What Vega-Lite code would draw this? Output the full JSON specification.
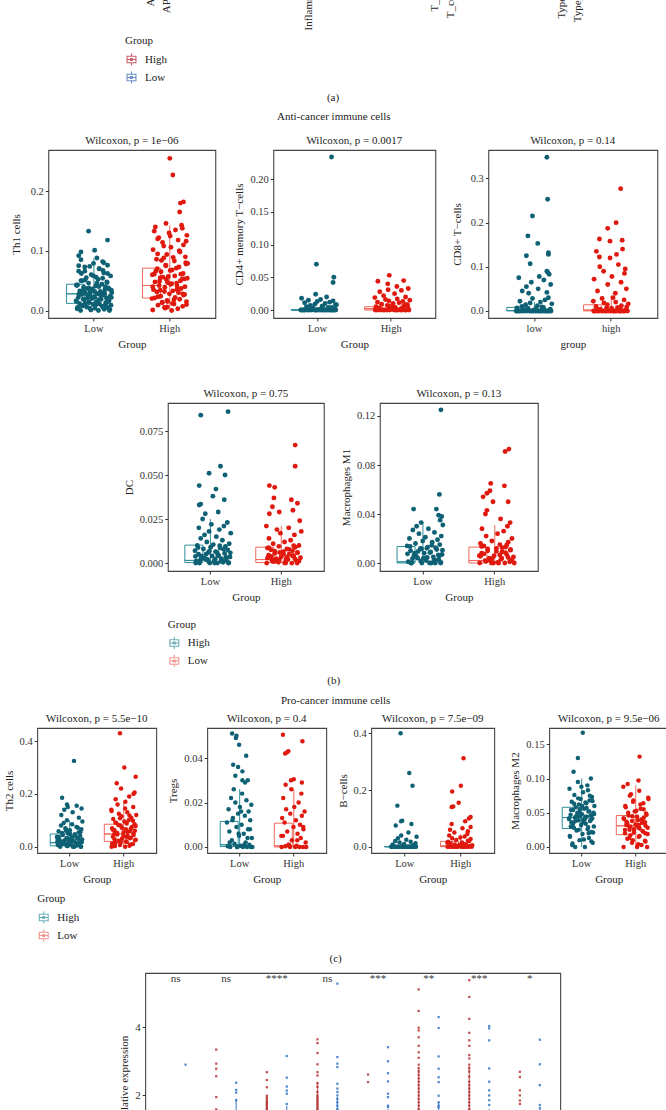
{
"$schema":"https://vega.github.io/schema/vega-lite/v6.json",
"padding":{"top":-81,"left":2,"right":0,"bottom":0},
"background":"white",
"config":{
 "font":"Liberation Serif",
 "view":{"stroke":"#444","strokeWidth":1.1},
 "axis":{"domain":false,"grid":false,"tickSize":3,"tickColor":"#333","labelColor":"#333","labelFontSize":10.5,"titleFontSize":11,"titleFontWeight":"normal","titleColor":"#222","labelPadding":2,"titlePadding":5},
 "axisX":{"labelAngle":0},
 "title":{"fontSize":11,"fontWeight":"normal","color":"#222","offset":4},
 "style":{"group-title":{"fontWeight":"normal"}},
 "legend":{"titleFontWeight":"normal","titleFontSize":11,"labelFontSize":11,"labelColor":"#222","titleColor":"#222","rowPadding":1,"titlePadding":7,"labelOffset":7}
},
"spacing":8,
"center":true,
"resolve":{"scale":{"color":"independent","x":"independent","y":"independent"},"legend":{"color":"independent"}},
"vconcat":[
{
 "width":662,"height":4,
 "view":{"stroke":null},
 "title":{"text":"(a)","orient":"bottom","offset":6,"anchor":"middle","dx":-20},
 "layer":[
  {"data":{"values":[{"f":"aDCs"},{"f":"APC_co_inhibition"},{"f":"APC_co_stimulation"},{"f":"B_cells"},{"f":"CCR"},{"f":"CD8+_T_cells"},{"f":"Check-point"},{"f":"Cytolytic_activity"},{"f":"DCs"},{"f":"HLA"},{"f":"iDCs"},{"f":"Inflammation-promoting"},{"f":"Macrophages"},{"f":"Mast_cells"},{"f":"MHC_class_I"},{"f":"Neutrophils"},{"f":"NK_cells"},{"f":"Parainflammation"},{"f":"pDCs"},{"f":"T_cell_co-inhibition"},{"f":"T_cell_co-stimulation"},{"f":"T_helper_cells"},{"f":"Tfh"},{"f":"Th1_cells"},{"f":"Th2_cells"},{"f":"TIL"},{"f":"Treg"},{"f":"Type_I_IFN_Reponse"},{"f":"Type_II_IFN_Reponse"}]},
   "mark":{"type":"text","angle":270,"align":"right","baseline":"middle","fontSize":11,"color":"#222"},
   "encoding":{"x":{"field":"f","type":"nominal","sort":null,"scale":{"type":"band","range":[105.3,563.5]},"axis":null},"text":{"field":"f"}}},
  {"data":{"values":[]},
   "mark":{"type":"point","filled":false,"shape":"M-0.75,-0.55H0.75V0.55H-0.75Z M0,-1V-0.55 M0,0.55V1 M-0.75,0H0.75 M-0.15,-0.15H0.15V0.15H-0.15Z","strokeWidth":1.1},
   "encoding":{"color":{"field":"G","type":"nominal","scale":{"domain":["High","Low"],"range":["#b2182b","#2c5fae"]},"legend":{"title":"Group","orient":"none","legendX":103,"legendY":116,"symbolType":"M-0.75,-0.55H0.75V0.55H-0.75Z M0,-1V-0.55 M0,0.55V1 M-0.75,0H0.75 M-0.15,-0.15H0.15V0.15H-0.15Z","symbolSize":140,"symbolStrokeWidth":1.1}}}}
 ]
},
{
 "title":{"text":"(b)","orient":"bottom","offset":5,"anchor":"middle"},
 "resolve":{"scale":{"color":"independent","x":"independent","y":"independent"},"legend":{"color":"independent"}},
 "vconcat":[{
  "title":{"text":"Anti-cancer immune cells","offset":12,"anchor":"middle"},
  "spacing":36,
  "center":true,
  "resolve":{"scale":{"color":"independent","x":"independent","y":"independent"},"legend":{"color":"independent"}},
  "vconcat":[
   {"spacing":17,"resolve":{"scale":{"color":"independent","x":"independent","y":"independent"},"legend":{"color":"independent"}},"hconcat":[
    {"width":167,"height":168,"title":"Wilcoxon, p = 1e−06",
     "data":{"values":[{"g":"Low","lo":0,"q1":0.012,"med":0.028,"q3":0.044,"hi":0.088},{"g":"High","lo":0,"q1":0.021,"med":0.042,"q3":0.071,"hi":0.143}]},
     "encoding":{"x":{"field":"g","type":"nominal","scale":{"domain":["Low","High"],"paddingInner":0,"paddingOuter":0.1},"axis":{"title":"Group"}}},
     "layer":[
      {"mark":{"type":"rule","strokeWidth":1},"encoding":{"y":{"field":"lo","type":"quantitative","title":"Th1 cells","scale":{"domain":[-0.0125,0.269],"nice":false,"zero":false}},"y2":{"field":"hi"},"stroke":{"condition":{"test":"datum.g==='Low'","value":"#2f8e9c"},"value":"#ef6a5f"}}},
      {"mark":{"type":"bar","width":{"band":0.72},"fill":"white","strokeWidth":1},"encoding":{"y":{"field":"q1","type":"quantitative","title":"Th1 cells","scale":{"domain":[-0.0125,0.269],"nice":false,"zero":false}},"y2":{"field":"q3"},"stroke":{"condition":{"test":"datum.g==='Low'","value":"#2f8e9c"},"value":"#ef6a5f"}}},
      {"mark":{"type":"bar","width":{"band":0.72},"fill":"white","strokeWidth":1},"encoding":{"y":{"field":"med","type":"quantitative","title":"Th1 cells","scale":{"domain":[-0.0125,0.269],"nice":false,"zero":false}},"y2":{"field":"med"},"stroke":{"condition":{"test":"datum.g==='Low'","value":"#2f8e9c"},"value":"#ef6a5f"}}},
      {"data":{"values":"g,v,j\nLow,0,0.12\nLow,0,-0.35\nLow,0,0.41\nLow,0.001,-0.08\nLow,0.002,0.27\nLow,0.003,-0.44\nLow,0.004,0.03\nLow,0.005,0.36\nLow,0.006,-0.19\nLow,0.007,0.22\nLow,0.008,-0.29\nLow,0.009,0.45\nLow,0.01,-0.02\nLow,0.011,0.15\nLow,0.012,-0.38\nLow,0.013,0.31\nLow,0.014,-0.12\nLow,0.015,0.07\nLow,0.016,-0.47\nLow,0.017,0.39\nLow,0.018,-0.25\nLow,0.019,0.19\nLow,0.02,-0.06\nLow,0.021,0.33\nLow,0.022,-0.41\nLow,0.023,0.01\nLow,0.024,0.43\nLow,0.025,-0.16\nLow,0.026,0.25\nLow,0.027,-0.32\nLow,0.028,0.09\nLow,0.029,-0.22\nLow,0.03,0.47\nLow,0.031,-0.1\nLow,0.032,0.17\nLow,0.033,-0.37\nLow,0.035,0.29\nLow,0.036,-0.04\nLow,0.038,0.38\nLow,0.039,-0.27\nLow,0.041,0.05\nLow,0.042,-0.45\nLow,0.044,0.21\nLow,0.046,-0.14\nLow,0.048,0.34\nLow,0.05,-0.31\nLow,0.052,0.11\nLow,0.055,-0.2\nLow,0.058,0.44\nLow,0.06,-0.07\nLow,0.063,0.26\nLow,0.066,-0.4\nLow,0.07,0.14\nLow,0.073,-0.24\nLow,0.076,0.36\nLow,0.079,-0.01\nLow,0.082,0.23\nLow,0.085,-0.34\nLow,0.088,0.08\nLow,0.005,-0.43\nLow,0.009,0.3\nLow,0.013,-0.13\nLow,0.016,0.4\nLow,0.019,-0.28\nLow,0.022,0.02\nLow,0.025,0.18\nLow,0.027,-0.39\nLow,0.029,0.28\nLow,0.031,-0.09\nLow,0.034,0.46\nLow,0.037,-0.18\nLow,0.04,0.13\nLow,0.043,-0.46\nLow,0.047,0.35\nLow,0.051,-0.23\nLow,0.056,0.06\nLow,0.062,-0.33\nLow,0.067,0.24\nLow,0.074,-0.11\nLow,0.002,0.42\nLow,0.004,-0.11\nLow,0.006,0.24\nLow,0.008,-0.33\nLow,0.01,0.06\nLow,0.012,-0.23\nLow,0.014,0.35\nLow,0.016,-0.46\nLow,0.018,0.13\nLow,0.02,-0.18\nLow,0.022,0.46\nLow,0.024,-0.09\nLow,0.026,0.28\nLow,0.028,-0.39\nLow,0.03,0.18\nLow,0.032,0.02\nLow,0.034,-0.28\nLow,0.036,0.4\nLow,0.038,-0.13\nLow,0.04,0.3\nLow,0.043,-0.43\nLow,0.046,0.08\nLow,0.05,-0.34\nLow,0.054,0.23\nLow,0.058,-0.01\nLow,0.062,0.36\nLow,0.066,-0.24\nLow,0.07,0.14\nLow,0.075,-0.4\nLow,0.08,0.26\nLow,0.092,-0.4\nLow,0.098,-0.34\nLow,0.101,0.02\nLow,0.118,0.36\nLow,0.133,-0.14\nHigh,0,0.05\nHigh,0.001,-0.45\nHigh,0.003,0.21\nHigh,0.005,-0.14\nHigh,0.007,0.34\nHigh,0.009,-0.31\nHigh,0.011,0.11\nHigh,0.013,-0.2\nHigh,0.015,0.44\nHigh,0.017,-0.07\nHigh,0.019,0.26\nHigh,0.021,-0.4\nHigh,0.022,0.14\nHigh,0.024,-0.24\nHigh,0.026,0.36\nHigh,0.028,-0.01\nHigh,0.03,0.23\nHigh,0.031,-0.34\nHigh,0.033,0.08\nHigh,0.035,-0.43\nHigh,0.037,0.3\nHigh,0.039,-0.13\nHigh,0.04,0.4\nHigh,0.042,-0.28\nHigh,0.044,0.02\nHigh,0.046,0.18\nHigh,0.048,-0.39\nHigh,0.05,0.28\nHigh,0.052,-0.09\nHigh,0.054,0.46\nHigh,0.056,-0.18\nHigh,0.058,0.13\nHigh,0.06,-0.46\nHigh,0.062,0.35\nHigh,0.065,-0.23\nHigh,0.068,0.06\nHigh,0.07,-0.33\nHigh,0.073,0.24\nHigh,0.076,-0.11\nHigh,0.08,0.42\nHigh,0.083,0.12\nHigh,0.086,-0.35\nHigh,0.09,0.41\nHigh,0.094,-0.08\nHigh,0.098,0.27\nHigh,0.102,-0.44\nHigh,0.106,0.03\nHigh,0.11,0.36\nHigh,0.114,-0.19\nHigh,0.118,0.22\nHigh,0.122,-0.29\nHigh,0.126,0.45\nHigh,0.13,-0.02\nHigh,0.135,0.15\nHigh,0.14,-0.38\nHigh,0.143,0.31\nHigh,0.004,-0.12\nHigh,0.012,0.07\nHigh,0.02,-0.47\nHigh,0.027,0.39\nHigh,0.034,-0.25\nHigh,0.041,0.19\nHigh,0.047,-0.06\nHigh,0.053,0.33\nHigh,0.061,-0.41\nHigh,0.067,0.01\nHigh,0.078,0.43\nHigh,0.088,-0.16\nHigh,0.1,0.25\nHigh,0.12,-0.32\nHigh,0.006,-0.07\nHigh,0.01,0.44\nHigh,0.014,-0.2\nHigh,0.018,0.11\nHigh,0.023,-0.31\nHigh,0.028,0.34\nHigh,0.032,-0.14\nHigh,0.036,0.21\nHigh,0.04,-0.45\nHigh,0.045,0.05\nHigh,0.049,-0.27\nHigh,0.053,0.38\nHigh,0.057,-0.04\nHigh,0.061,0.29\nHigh,0.066,-0.37\nHigh,0.071,0.17\nHigh,0.075,-0.1\nHigh,0.079,0.47\nHigh,0.084,-0.22\nHigh,0.089,0.09\nHigh,0.095,-0.32\nHigh,0.1,0.25\nHigh,0.108,-0.16\nHigh,0.116,0.43\nHigh,0.125,0.01\nHigh,0.133,-0.41\nHigh,0.138,0.33\nHigh,0.015,-0.06\nHigh,0.035,0.19\nHigh,0.055,-0.25\nHigh,0.146,-0.1\nHigh,0.165,0.26\nHigh,0.18,0.28\nHigh,0.182,0.36\nHigh,0.227,0.08\nHigh,0.255,0","format":{"type":"csv","parse":{"v":"number","j":"number"}}},
       "mark":{"type":"circle","size":24,"opacity":1},
       "encoding":{"xOffset":{"field":"j","type":"quantitative","scale":{"domain":[-1,1]}},"y":{"field":"v","type":"quantitative","title":"Th1 cells","scale":{"domain":[-0.0125,0.269],"nice":false,"zero":false},"axis":{"values":[0,0.1,0.2],"format":".1f","titlePadding":9}},"color":{"condition":{"test":"datum.g==='Low'","value":"#0e6174"},"value":"#e0190f"}}}
     ]},
    {"spacing":14,"resolve":{"scale":{"color":"independent","x":"independent","y":"independent"},"legend":{"color":"independent"}},"hconcat":[
    {"width":162,"height":168,"title":"Wilcoxon, p = 0.0017",
     "data":{"values":[{"g":"Low","lo":0,"q1":0,"med":0,"q3":0.0005,"hi":0.001},{"g":"High","lo":0,"q1":0,"med":0.002,"q3":0.005,"hi":0.012}]},
     "encoding":{"x":{"field":"g","type":"nominal","scale":{"domain":["Low","High"],"paddingInner":0,"paddingOuter":0.1},"axis":{"title":"Group"}}},
     "layer":[
      {"mark":{"type":"rule","strokeWidth":1},"encoding":{"y":{"field":"lo","type":"quantitative","title":"CD4+ memory T−cells","scale":{"domain":[-0.0122,0.2446],"nice":false,"zero":false}},"y2":{"field":"hi"},"stroke":{"condition":{"test":"datum.g==='Low'","value":"#2f8e9c"},"value":"#ef6a5f"}}},
      {"mark":{"type":"bar","width":{"band":0.72},"fill":"white","strokeWidth":1},"encoding":{"y":{"field":"q1","type":"quantitative","title":"CD4+ memory T−cells","scale":{"domain":[-0.0122,0.2446],"nice":false,"zero":false}},"y2":{"field":"q3"},"stroke":{"condition":{"test":"datum.g==='Low'","value":"#2f8e9c"},"value":"#ef6a5f"}}},
      {"mark":{"type":"bar","width":{"band":0.72},"fill":"white","strokeWidth":1},"encoding":{"y":{"field":"med","type":"quantitative","title":"CD4+ memory T−cells","scale":{"domain":[-0.0122,0.2446],"nice":false,"zero":false}},"y2":{"field":"med"},"stroke":{"condition":{"test":"datum.g==='Low'","value":"#2f8e9c"},"value":"#ef6a5f"}}},
      {"data":{"values":"g,v,j\nLow,0,0.12\nLow,0,-0.35\nLow,0,0.41\nLow,0,-0.08\nLow,0,0.27\nLow,0,-0.44\nLow,0,0.03\nLow,0,0.36\nLow,0,-0.19\nLow,0,0.22\nLow,0,-0.29\nLow,0,0.45\nLow,0,-0.02\nLow,0,0.15\nLow,0,-0.38\nLow,0,0.31\nLow,0,-0.12\nLow,0,0.07\nLow,0,-0.47\nLow,0,0.39\nLow,0,-0.25\nLow,0,0.19\nLow,0,-0.06\nLow,0,0.33\nLow,0,-0.41\nLow,0.001,0.01\nLow,0.002,0.43\nLow,0.003,-0.16\nLow,0.004,0.25\nLow,0.005,-0.32\nLow,0.006,0.09\nLow,0.007,-0.22\nLow,0.008,0.47\nLow,0.009,-0.1\nLow,0.01,0.17\nLow,0.011,-0.37\nLow,0.012,0.29\nLow,0.013,-0.04\nLow,0.014,0.38\nLow,0.015,-0.27\nLow,0.016,0.05\nLow,0.018,-0.45\nLow,0.02,0.21\nLow,0.002,-0.14\nLow,0.004,0.34\nLow,0.001,-0.31\nLow,0.006,0.11\nLow,0.003,-0.2\nLow,0.008,0.44\nLow,0.024,-0.08\nLow,0.042,0.38\nLow,0.05,0.4\nLow,0.07,-0.06\nLow,0.234,0.34\nHigh,0,0.05\nHigh,0,-0.45\nHigh,0,0.21\nHigh,0,-0.14\nHigh,0,0.34\nHigh,0,-0.31\nHigh,0,0.11\nHigh,0,-0.2\nHigh,0,0.44\nHigh,0,-0.07\nHigh,0,0.26\nHigh,0,-0.4\nHigh,0,0.14\nHigh,0,-0.24\nHigh,0,0.36\nHigh,0.001,-0.01\nHigh,0.002,0.23\nHigh,0.003,-0.34\nHigh,0.004,0.08\nHigh,0.005,-0.43\nHigh,0.006,0.3\nHigh,0.007,-0.13\nHigh,0.008,0.4\nHigh,0.009,-0.28\nHigh,0.01,0.02\nHigh,0.011,0.18\nHigh,0.012,-0.39\nHigh,0.013,0.28\nHigh,0.014,-0.09\nHigh,0.015,0.46\nHigh,0.016,-0.18\nHigh,0.017,0.13\nHigh,0.019,-0.46\nHigh,0.02,0.35\nHigh,0.022,-0.23\nHigh,0.025,0.06\nHigh,0.028,-0.33\nHigh,0.03,0.24\nHigh,0.031,-0.11\nHigh,0.033,0.42\nHigh,0.036,0.12\nHigh,0.002,-0.35\nHigh,0.004,0.41\nHigh,0.006,-0.08\nHigh,0.003,0.27\nHigh,0.001,-0.44\nHigh,0.005,0.03\nHigh,0.008,0.36\nHigh,0.04,-0.12\nHigh,0.044,-0.38\nHigh,0.045,0.3\nHigh,0.053,-0.08","format":{"type":"csv","parse":{"v":"number","j":"number"}}},
       "mark":{"type":"circle","size":24,"opacity":1},
       "encoding":{"xOffset":{"field":"j","type":"quantitative","scale":{"domain":[-1,1]}},"y":{"field":"v","type":"quantitative","title":"CD4+ memory T−cells","scale":{"domain":[-0.0122,0.2446],"nice":false,"zero":false},"axis":{"values":[0,0.05,0.1,0.15,0.2],"format":".2f"}},"color":{"condition":{"test":"datum.g==='Low'","value":"#0e6174"},"value":"#e0190f"}}}
     ]},
    {"width":169,"height":168,"title":"Wilcoxon, p = 0.14",
     "data":{"values":[{"g":"Low","lo":0,"q1":0,"med":0.001,"q3":0.008,"hi":0.02},{"g":"High","lo":0,"q1":0,"med":0.002,"q3":0.014,"hi":0.034}]},
     "encoding":{"x":{"field":"g","type":"nominal","scale":{"domain":["Low","High"],"paddingInner":0,"paddingOuter":0.1},"axis":{"title":"group","labelExpr":"datum.label == 'Low' ? 'low' : 'high'"}}},
     "layer":[
      {"mark":{"type":"rule","strokeWidth":1},"encoding":{"y":{"field":"lo","type":"quantitative","title":"CD8+ T−cells","scale":{"domain":[-0.016,0.3645],"nice":false,"zero":false}},"y2":{"field":"hi"},"stroke":{"condition":{"test":"datum.g==='Low'","value":"#2f8e9c"},"value":"#ef6a5f"}}},
      {"mark":{"type":"bar","width":{"band":0.72},"fill":"white","strokeWidth":1},"encoding":{"y":{"field":"q1","type":"quantitative","title":"CD8+ T−cells","scale":{"domain":[-0.016,0.3645],"nice":false,"zero":false}},"y2":{"field":"q3"},"stroke":{"condition":{"test":"datum.g==='Low'","value":"#2f8e9c"},"value":"#ef6a5f"}}},
      {"mark":{"type":"bar","width":{"band":0.72},"fill":"white","strokeWidth":1},"encoding":{"y":{"field":"med","type":"quantitative","title":"CD8+ T−cells","scale":{"domain":[-0.016,0.3645],"nice":false,"zero":false}},"y2":{"field":"med"},"stroke":{"condition":{"test":"datum.g==='Low'","value":"#2f8e9c"},"value":"#ef6a5f"}}},
      {"data":{"values":"g,v,j\nLow,0,0.12\nLow,0,-0.35\nLow,0,0.41\nLow,0,-0.08\nLow,0,0.27\nLow,0,-0.44\nLow,0,0.03\nLow,0,0.36\nLow,0,-0.19\nLow,0,0.22\nLow,0,-0.29\nLow,0,0.45\nLow,0,-0.02\nLow,0,0.15\nLow,0,-0.38\nLow,0,0.31\nLow,0,-0.12\nLow,0,0.07\nLow,0,-0.47\nLow,0,0.39\nLow,0,-0.25\nLow,0,0.19\nLow,0,-0.06\nLow,0,0.33\nLow,0,-0.41\nLow,0.002,0.01\nLow,0.004,0.43\nLow,0.006,-0.16\nLow,0.008,0.25\nLow,0.01,-0.32\nLow,0.012,0.09\nLow,0.014,-0.22\nLow,0.016,0.47\nLow,0.018,-0.1\nLow,0.02,0.17\nLow,0.022,-0.37\nLow,0.025,0.29\nLow,0.028,-0.04\nLow,0.03,0.38\nLow,0.003,-0.27\nLow,0.005,0.05\nLow,0.007,-0.45\nLow,0.009,0.21\nLow,0.04,-0.14\nLow,0.042,0.34\nLow,0.045,-0.31\nLow,0.05,0.11\nLow,0.055,-0.2\nLow,0.06,0.44\nLow,0.065,-0.07\nLow,0.07,0.26\nLow,0.075,-0.4\nLow,0.078,0.14\nLow,0.083,0.4\nLow,0.088,0.36\nLow,0.09,0.34\nLow,0.107,-0.1\nLow,0.125,-0.2\nLow,0.128,0.38\nLow,0.132,0.38\nLow,0.153,0.1\nLow,0.17,-0.16\nLow,0.215,-0.04\nLow,0.253,0.36\nLow,0.348,0.34\nHigh,0,0.05\nHigh,0,-0.45\nHigh,0,0.21\nHigh,0,-0.14\nHigh,0,0.34\nHigh,0,-0.31\nHigh,0,0.11\nHigh,0,-0.2\nHigh,0,0.44\nHigh,0,-0.07\nHigh,0,0.26\nHigh,0,-0.4\nHigh,0,0.14\nHigh,0,-0.24\nHigh,0,0.36\nHigh,0,-0.01\nHigh,0,0.23\nHigh,0,-0.34\nHigh,0,0.08\nHigh,0,-0.43\nHigh,0,0.3\nHigh,0,-0.13\nHigh,0.002,0.4\nHigh,0.004,-0.28\nHigh,0.006,0.02\nHigh,0.008,0.18\nHigh,0.01,-0.39\nHigh,0.012,0.28\nHigh,0.014,-0.09\nHigh,0.016,0.46\nHigh,0.018,-0.18\nHigh,0.02,0.13\nHigh,0.022,-0.46\nHigh,0.025,0.35\nHigh,0.028,-0.23\nHigh,0.03,0.06\nHigh,0.003,-0.33\nHigh,0.005,0.24\nHigh,0.007,-0.11\nHigh,0.009,0.42\nHigh,0.04,0.12\nHigh,0.045,-0.35\nHigh,0.05,0.41\nHigh,0.06,-0.08\nHigh,0.065,0.27\nHigh,0.072,-0.44\nHigh,0.078,0.03\nHigh,0.085,0.36\nHigh,0.09,-0.19\nHigh,0.095,0.38\nHigh,0.1,-0.29\nHigh,0.105,0.2\nHigh,0.12,-0.02\nHigh,0.122,-0.3\nHigh,0.128,0.15\nHigh,0.135,-0.38\nHigh,0.14,0.31\nHigh,0.158,-0.02\nHigh,0.16,0.3\nHigh,0.163,-0.3\nHigh,0.187,-0.08\nHigh,0.2,0.14\nHigh,0.277,0.26","format":{"type":"csv","parse":{"v":"number","j":"number"}}},
       "mark":{"type":"circle","size":24,"opacity":1},
       "encoding":{"xOffset":{"field":"j","type":"quantitative","scale":{"domain":[-1,1]}},"y":{"field":"v","type":"quantitative","title":"CD8+ T−cells","scale":{"domain":[-0.016,0.3645],"nice":false,"zero":false},"axis":{"values":[0,0.1,0.2,0.3],"format":".1f","titlePadding":8}},"color":{"condition":{"test":"datum.g==='Low'","value":"#0e6174"},"value":"#e0190f"}}}
     ]}
    ]}
   ]},
   {"spacing":15,"resolve":{"scale":{"color":"independent","x":"independent","y":"independent"},"legend":{"color":"independent"}},"hconcat":[
    {"width":156,"height":168,"title":"Wilcoxon, p = 0.75",
     "data":{"values":[{"g":"Low","lo":0,"q1":0.0003,"med":0.0015,"q3":0.0102,"hi":0.025},{"g":"High","lo":0,"q1":0.0003,"med":0.002,"q3":0.009,"hi":0.021}]},
     "encoding":{"x":{"field":"g","type":"nominal","scale":{"domain":["Low","High"],"paddingInner":0,"paddingOuter":0.1},"axis":{"title":"Group"}}},
     "layer":[
      {"mark":{"type":"rule","strokeWidth":1},"encoding":{"y":{"field":"lo","type":"quantitative","title":"DC","scale":{"domain":[-0.0045,0.0909],"nice":false,"zero":false}},"y2":{"field":"hi"},"stroke":{"condition":{"test":"datum.g==='Low'","value":"#2f8e9c"},"value":"#ef6a5f"}}},
      {"mark":{"type":"bar","width":{"band":0.72},"fill":"white","strokeWidth":1},"encoding":{"y":{"field":"q1","type":"quantitative","title":"DC","scale":{"domain":[-0.0045,0.0909],"nice":false,"zero":false}},"y2":{"field":"q3"},"stroke":{"condition":{"test":"datum.g==='Low'","value":"#2f8e9c"},"value":"#ef6a5f"}}},
      {"mark":{"type":"bar","width":{"band":0.72},"fill":"white","strokeWidth":1},"encoding":{"y":{"field":"med","type":"quantitative","title":"DC","scale":{"domain":[-0.0045,0.0909],"nice":false,"zero":false}},"y2":{"field":"med"},"stroke":{"condition":{"test":"datum.g==='Low'","value":"#2f8e9c"},"value":"#ef6a5f"}}},
      {"data":{"values":"g,v,j\nLow,0,0.12\nLow,0,-0.35\nLow,0,0.41\nLow,0,-0.08\nLow,0.0005,0.27\nLow,0.001,-0.44\nLow,0.001,0.03\nLow,0.0015,0.36\nLow,0.002,-0.19\nLow,0.0025,0.22\nLow,0.003,-0.29\nLow,0.0035,0.45\nLow,0.004,-0.02\nLow,0.0045,0.15\nLow,0.005,-0.38\nLow,0.0055,0.31\nLow,0.006,-0.12\nLow,0.0065,0.07\nLow,0.007,-0.47\nLow,0.0075,0.39\nLow,0.008,-0.25\nLow,0.0085,0.19\nLow,0.009,-0.06\nLow,0.0095,0.33\nLow,0.01,-0.41\nLow,0.0105,0.01\nLow,0.011,0.43\nLow,0.012,-0.16\nLow,0.013,0.25\nLow,0.014,-0.32\nLow,0.015,0.09\nLow,0.016,-0.22\nLow,0.017,0.47\nLow,0.018,-0.1\nLow,0.019,0.17\nLow,0.02,-0.37\nLow,0.021,0.29\nLow,0.022,-0.04\nLow,0.023,0.38\nLow,0.025,-0.27\nLow,0,0.05\nLow,0,-0.45\nLow,0.001,0.21\nLow,0.002,-0.14\nLow,0.003,0.34\nLow,0.004,-0.31\nLow,0.006,0.11\nLow,0.0002,0.42\nLow,0.0008,-0.11\nLow,0.0012,0.24\nLow,0.0018,-0.33\nLow,0.0022,0.06\nLow,0.0028,-0.23\nLow,0.0032,0.35\nLow,0.0038,-0.46\nLow,0.0042,0.13\nLow,0.005,-0.18\nLow,0.0058,0.46\nLow,0.0068,-0.09\nLow,0.0078,0.28\nLow,0.0088,-0.39\nLow,0.0098,0.18\nLow,0.028,-0.2\nLow,0.029,0.14\nLow,0.033,-0.36\nLow,0.0335,-0.32\nLow,0.036,0.3\nLow,0.038,0\nLow,0.042,0.08\nLow,0.044,-0.36\nLow,0.05,0.32\nLow,0.051,-0.1\nLow,0.055,0.2\nLow,0.084,-0.32\nLow,0.086,0.4\nHigh,0,0.05\nHigh,0,-0.45\nHigh,0,0.21\nHigh,0.0005,-0.14\nHigh,0.001,0.34\nHigh,0.0015,-0.31\nHigh,0.002,0.11\nHigh,0.0025,-0.2\nHigh,0.003,0.44\nHigh,0.0035,-0.07\nHigh,0.004,0.26\nHigh,0.0045,-0.4\nHigh,0.005,0.14\nHigh,0.0055,-0.24\nHigh,0.006,0.36\nHigh,0.0065,-0.01\nHigh,0.007,0.23\nHigh,0.0075,-0.34\nHigh,0.008,0.08\nHigh,0.0085,-0.43\nHigh,0.009,0.3\nHigh,0.0095,-0.13\nHigh,0.01,0.4\nHigh,0.011,-0.28\nHigh,0.012,0.02\nHigh,0.013,0.18\nHigh,0.014,-0.39\nHigh,0.016,0.28\nHigh,0.017,-0.09\nHigh,0.018,0.46\nHigh,0.019,-0.18\nHigh,0.02,0.13\nHigh,0.021,-0.46\nHigh,0,0.35\nHigh,0.001,-0.23\nHigh,0.002,0.06\nHigh,0.003,-0.33\nHigh,0.004,0.24\nHigh,0.006,-0.11\nHigh,0.0002,0.02\nHigh,0.0008,-0.28\nHigh,0.0012,0.4\nHigh,0.0018,-0.13\nHigh,0.0022,0.3\nHigh,0.0028,-0.43\nHigh,0.0032,0.08\nHigh,0.0038,-0.34\nHigh,0.0042,0.23\nHigh,0.005,-0.01\nHigh,0.0058,0.36\nHigh,0.0068,-0.24\nHigh,0.0078,0.14\nHigh,0.0088,-0.4\nHigh,0.0098,0.26\nHigh,0.024,0.42\nHigh,0.028,-0.38\nHigh,0.029,-0.12\nHigh,0.03,0.24\nHigh,0.032,-0.3\nHigh,0.034,0.36\nHigh,0.036,0.2\nHigh,0.037,-0.26\nHigh,0.043,-0.24\nHigh,0.044,-0.38\nHigh,0.055,0.3\nHigh,0.067,0.3","format":{"type":"csv","parse":{"v":"number","j":"number"}}},
       "mark":{"type":"circle","size":24,"opacity":1},
       "encoding":{"xOffset":{"field":"j","type":"quantitative","scale":{"domain":[-1,1]}},"y":{"field":"v","type":"quantitative","title":"DC","scale":{"domain":[-0.0045,0.0909],"nice":false,"zero":false},"axis":{"values":[0,0.025,0.05,0.075],"format":".3f"}},"color":{"condition":{"test":"datum.g==='Low'","value":"#0e6174"},"value":"#e0190f"}}},
      {"data":{"values":[]},
       "mark":{"type":"point","filled":false,"shape":"M-0.75,-0.55H0.75V0.55H-0.75Z M0,-1V-0.55 M0,0.55V1 M-0.75,0H0.75 M-0.15,-0.15H0.15V0.15H-0.15Z","strokeWidth":1.1},
       "encoding":{"color":{"field":"G","type":"nominal","scale":{"domain":["High","Low"],"range":["#2f8e9c","#ef6a5f"]},"legend":{"title":"Group","orient":"none","legendX":0,"legendY":215.5,"symbolType":"M-0.75,-0.55H0.75V0.55H-0.75Z M0,-1V-0.55 M0,0.55V1 M-0.75,0H0.75 M-0.15,-0.15H0.15V0.15H-0.15Z","symbolSize":140,"symbolStrokeWidth":1.1}}}}
     ]},
    {"width":158,"height":168,"title":"Wilcoxon, p = 0.13",
     "data":{"values":[{"g":"Low","lo":0,"q1":0,"med":0.001,"q3":0.0135,"hi":0.033},{"g":"High","lo":0,"q1":0,"med":0.002,"q3":0.013,"hi":0.031}]},
     "encoding":{"x":{"field":"g","type":"nominal","scale":{"domain":["Low","High"],"paddingInner":0,"paddingOuter":0.1},"axis":{"title":"Group"}}},
     "layer":[
      {"mark":{"type":"rule","strokeWidth":1},"encoding":{"y":{"field":"lo","type":"quantitative","title":"Macrophages M1","scale":{"domain":[-0.0065,0.1306],"nice":false,"zero":false}},"y2":{"field":"hi"},"stroke":{"condition":{"test":"datum.g==='Low'","value":"#2f8e9c"},"value":"#ef6a5f"}}},
      {"mark":{"type":"bar","width":{"band":0.72},"fill":"white","strokeWidth":1},"encoding":{"y":{"field":"q1","type":"quantitative","title":"Macrophages M1","scale":{"domain":[-0.0065,0.1306],"nice":false,"zero":false}},"y2":{"field":"q3"},"stroke":{"condition":{"test":"datum.g==='Low'","value":"#2f8e9c"},"value":"#ef6a5f"}}},
      {"mark":{"type":"bar","width":{"band":0.72},"fill":"white","strokeWidth":1},"encoding":{"y":{"field":"med","type":"quantitative","title":"Macrophages M1","scale":{"domain":[-0.0065,0.1306],"nice":false,"zero":false}},"y2":{"field":"med"},"stroke":{"condition":{"test":"datum.g==='Low'","value":"#2f8e9c"},"value":"#ef6a5f"}}},
      {"data":{"values":"g,v,j\nLow,0,0.12\nLow,0,-0.35\nLow,0,0.41\nLow,0,-0.08\nLow,0,0.27\nLow,0.001,-0.44\nLow,0.002,0.03\nLow,0.003,0.36\nLow,0.004,-0.19\nLow,0.005,0.22\nLow,0.006,-0.29\nLow,0.007,0.45\nLow,0.008,-0.02\nLow,0.009,0.15\nLow,0.01,-0.38\nLow,0.011,0.31\nLow,0.012,-0.12\nLow,0.013,0.07\nLow,0.014,-0.47\nLow,0.015,0.39\nLow,0.016,-0.25\nLow,0.017,0.19\nLow,0.018,-0.06\nLow,0.019,0.33\nLow,0.02,-0.41\nLow,0.021,0.01\nLow,0.022,0.43\nLow,0.024,-0.16\nLow,0.025,0.25\nLow,0.027,-0.32\nLow,0.028,0.09\nLow,0.03,-0.22\nLow,0.031,0.47\nLow,0.033,-0.1\nLow,0,0.17\nLow,0,-0.37\nLow,0.002,0.29\nLow,0.004,-0.04\nLow,0.006,0.38\nLow,0.008,-0.27\nLow,0.012,0.05\nLow,0.0005,0.42\nLow,0.0015,-0.11\nLow,0.0025,0.24\nLow,0.0035,-0.33\nLow,0.0045,0.06\nLow,0.0055,-0.23\nLow,0.0065,0.35\nLow,0.0075,-0.46\nLow,0.0085,0.13\nLow,0.0095,-0.18\nLow,0.0105,0.46\nLow,0.0115,-0.09\nLow,0.0125,0.28\nLow,0.0135,-0.39\nLow,0.0145,0.18\nLow,0.035,0.4\nLow,0.038,0.44\nLow,0.039,0.36\nLow,0.044,-0.3\nLow,0.044,0.3\nLow,0.056,0.38\nLow,0.125,0.42\nHigh,0,0.05\nHigh,0,-0.45\nHigh,0,0.21\nHigh,0,-0.14\nHigh,0.001,0.34\nHigh,0.002,-0.31\nHigh,0.003,0.11\nHigh,0.004,-0.2\nHigh,0.005,0.44\nHigh,0.006,-0.07\nHigh,0.007,0.26\nHigh,0.008,-0.4\nHigh,0.009,0.14\nHigh,0.01,-0.24\nHigh,0.011,0.36\nHigh,0.012,-0.01\nHigh,0.013,0.23\nHigh,0.014,-0.34\nHigh,0.015,0.08\nHigh,0.016,-0.43\nHigh,0.017,0.3\nHigh,0.018,-0.13\nHigh,0.02,0.4\nHigh,0.022,-0.28\nHigh,0.024,0.02\nHigh,0.026,0.18\nHigh,0.028,-0.39\nHigh,0.03,0.28\nHigh,0,-0.09\nHigh,0,0.46\nHigh,0.002,-0.18\nHigh,0.004,0.13\nHigh,0.006,-0.46\nHigh,0.0005,0.02\nHigh,0.0015,-0.28\nHigh,0.0025,0.4\nHigh,0.0035,-0.13\nHigh,0.0045,0.3\nHigh,0.0055,-0.43\nHigh,0.0065,0.08\nHigh,0.0075,-0.34\nHigh,0.0085,0.23\nHigh,0.0095,-0.01\nHigh,0.0105,0.36\nHigh,0.0115,-0.24\nHigh,0.0125,0.14\nHigh,0.0135,-0.4\nHigh,0.0145,0.26\nHigh,0.033,0.35\nHigh,0.036,0.1\nHigh,0.04,-0.3\nHigh,0.043,-0.26\nHigh,0.05,-0.1\nHigh,0.05,0.3\nHigh,0.054,-0.36\nHigh,0.057,-0.26\nHigh,0.059,-0.18\nHigh,0.063,0.2\nHigh,0.065,-0.16\nHigh,0.091,0.22\nHigh,0.093,0.32","format":{"type":"csv","parse":{"v":"number","j":"number"}}},
       "mark":{"type":"circle","size":24,"opacity":1},
       "encoding":{"xOffset":{"field":"j","type":"quantitative","scale":{"domain":[-1,1]}},"y":{"field":"v","type":"quantitative","title":"Macrophages M1","scale":{"domain":[-0.0065,0.1306],"nice":false,"zero":false},"axis":{"values":[0,0.04,0.08,0.12],"format":".2f"}},"color":{"condition":{"test":"datum.g==='Low'","value":"#0e6174"},"value":"#e0190f"}}}
     ]}
   ]}
  ]
 }]
},
{
 "title":{"text":"(c)","orient":"bottom","offset":8,"anchor":"middle"},
 "resolve":{"scale":{"color":"independent","x":"independent","y":"independent"},"legend":{"color":"independent"}},
 "vconcat":[{
  "title":{"text":"Pro-cancer immune cells","offset":6,"anchor":"middle"},
  "spacing":10,
  "resolve":{"scale":{"color":"independent","x":"independent","y":"independent"},"legend":{"color":"independent"}},
  "hconcat":[
    {"width":119,"height":125,"title":"Wilcoxon, p = 5.5e−10",
     "data":{"values":[{"g":"Low","lo":0,"q1":0.003,"med":0.015,"q3":0.048,"hi":0.1},{"g":"High","lo":0,"q1":0.02,"med":0.048,"q3":0.085,"hi":0.17}]},
     "encoding":{"x":{"field":"g","type":"nominal","scale":{"domain":["Low","High"],"paddingInner":0,"paddingOuter":0.1},"axis":{"title":"Group"}}},
     "layer":[
      {"mark":{"type":"rule","strokeWidth":1},"encoding":{"y":{"field":"lo","type":"quantitative","title":"Th2 cells","scale":{"domain":[-0.024,0.4496],"nice":false,"zero":false}},"y2":{"field":"hi"},"stroke":{"condition":{"test":"datum.g==='Low'","value":"#2f8e9c"},"value":"#ef6a5f"}}},
      {"mark":{"type":"bar","width":{"band":0.72},"fill":"white","strokeWidth":1},"encoding":{"y":{"field":"q1","type":"quantitative","title":"Th2 cells","scale":{"domain":[-0.024,0.4496],"nice":false,"zero":false}},"y2":{"field":"q3"},"stroke":{"condition":{"test":"datum.g==='Low'","value":"#2f8e9c"},"value":"#ef6a5f"}}},
      {"mark":{"type":"bar","width":{"band":0.72},"fill":"white","strokeWidth":1},"encoding":{"y":{"field":"med","type":"quantitative","title":"Th2 cells","scale":{"domain":[-0.024,0.4496],"nice":false,"zero":false}},"y2":{"field":"med"},"stroke":{"condition":{"test":"datum.g==='Low'","value":"#2f8e9c"},"value":"#ef6a5f"}}},
      {"data":{"values":"g,v,j\nLow,0,0.12\nLow,0,-0.35\nLow,0,0.41\nLow,0.002,-0.08\nLow,0.004,0.27\nLow,0.006,-0.44\nLow,0.008,0.03\nLow,0.01,0.36\nLow,0.012,-0.19\nLow,0.014,0.22\nLow,0.016,-0.29\nLow,0.018,0.45\nLow,0.02,-0.02\nLow,0.023,0.15\nLow,0.026,-0.38\nLow,0.029,0.31\nLow,0.032,-0.12\nLow,0.035,0.07\nLow,0.038,-0.47\nLow,0.041,0.39\nLow,0.044,-0.25\nLow,0.047,0.19\nLow,0.05,-0.06\nLow,0.054,0.33\nLow,0.058,-0.41\nLow,0.062,0.01\nLow,0.066,0.43\nLow,0.07,-0.16\nLow,0.075,0.25\nLow,0.08,-0.32\nLow,0.085,0.09\nLow,0.09,-0.22\nLow,0.095,0.47\nLow,0.1,-0.1\nLow,0,0.17\nLow,0.003,-0.37\nLow,0.007,0.29\nLow,0.011,-0.04\nLow,0.015,0.38\nLow,0.02,-0.27\nLow,0.025,0.05\nLow,0.03,-0.45\nLow,0.04,0.21\nLow,0.06,-0.14\nLow,0.001,0.42\nLow,0.003,-0.11\nLow,0.005,0.24\nLow,0.007,-0.33\nLow,0.009,0.06\nLow,0.012,-0.23\nLow,0.015,0.35\nLow,0.018,-0.46\nLow,0.021,0.13\nLow,0.024,-0.18\nLow,0.027,0.46\nLow,0.031,-0.09\nLow,0.034,0.28\nLow,0.037,-0.39\nLow,0.043,0.18\nLow,0.048,0.02\nLow,0.052,-0.28\nLow,0.056,0.4\nLow,0.065,-0.13\nLow,0.072,0.3\nLow,0.11,0.34\nLow,0.12,-0.31\nLow,0.13,0.11\nLow,0.14,-0.2\nLow,0.145,0.44\nLow,0.15,-0.07\nLow,0.155,0.26\nLow,0.16,-0.1\nLow,0.185,-0.28\nLow,0.325,0.16\nHigh,0,0.05\nHigh,0,-0.45\nHigh,0.003,0.21\nHigh,0.006,-0.14\nHigh,0.01,0.34\nHigh,0.014,-0.31\nHigh,0.018,0.11\nHigh,0.022,-0.2\nHigh,0.026,0.44\nHigh,0.03,-0.07\nHigh,0.034,0.26\nHigh,0.038,-0.4\nHigh,0.042,0.14\nHigh,0.046,-0.24\nHigh,0.05,0.36\nHigh,0.054,-0.01\nHigh,0.058,0.23\nHigh,0.062,-0.34\nHigh,0.066,0.08\nHigh,0.07,-0.43\nHigh,0.075,0.3\nHigh,0.08,-0.13\nHigh,0.085,0.4\nHigh,0.09,-0.28\nHigh,0.095,0.02\nHigh,0.1,0.18\nHigh,0.105,-0.39\nHigh,0.11,0.28\nHigh,0.115,-0.09\nHigh,0.12,0.46\nHigh,0.125,-0.18\nHigh,0.13,0.13\nHigh,0.14,-0.46\nHigh,0.15,0.35\nHigh,0.16,-0.23\nHigh,0.17,0.06\nHigh,0.002,-0.33\nHigh,0.008,0.24\nHigh,0.016,-0.11\nHigh,0.024,0.42\nHigh,0.036,0.12\nHigh,0.048,-0.35\nHigh,0.06,0.41\nHigh,0.012,-0.43\nHigh,0.02,0.08\nHigh,0.028,-0.34\nHigh,0.032,0.23\nHigh,0.04,-0.01\nHigh,0.044,0.36\nHigh,0.052,-0.24\nHigh,0.056,0.14\nHigh,0.064,-0.4\nHigh,0.068,0.26\nHigh,0.072,-0.07\nHigh,0.078,0.44\nHigh,0.082,-0.2\nHigh,0.088,0.11\nHigh,0.092,-0.31\nHigh,0.098,0.34\nHigh,0.108,-0.14\nHigh,0.118,0.21\nHigh,0.135,-0.45\nHigh,0.145,0.05\nHigh,0.18,-0.3\nHigh,0.19,0.2\nHigh,0.2,0.36\nHigh,0.205,0.4\nHigh,0.22,-0.1\nHigh,0.24,-0.26\nHigh,0.265,0.44\nHigh,0.3,0.02\nHigh,0.43,-0.14","format":{"type":"csv","parse":{"v":"number","j":"number"}}},
       "mark":{"type":"circle","size":20,"opacity":1},
       "encoding":{"xOffset":{"field":"j","type":"quantitative","scale":{"domain":[-1,1]}},"y":{"field":"v","type":"quantitative","title":"Th2 cells","scale":{"domain":[-0.024,0.4496],"nice":false,"zero":false},"axis":{"values":[0,0.1,0.2,0.3,0.4],"format":".1f"}},"color":{"condition":{"test":"datum.g==='Low'","value":"#0e6174"},"value":"#e0190f"}}},
      {"data":{"values":[]},
       "mark":{"type":"point","filled":false,"shape":"M-0.75,-0.55H0.75V0.55H-0.75Z M0,-1V-0.55 M0,0.55V1 M-0.75,0H0.75 M-0.15,-0.15H0.15V0.15H-0.15Z","strokeWidth":1.1},
       "encoding":{"color":{"field":"G","type":"nominal","scale":{"domain":["High","Low"],"range":["#2f8e9c","#ef6a5f"]},"legend":{"title":"Group","orient":"none","legendX":0,"legendY":165,"symbolType":"M-0.75,-0.55H0.75V0.55H-0.75Z M0,-1V-0.55 M0,0.55V1 M-0.75,0H0.75 M-0.15,-0.15H0.15V0.15H-0.15Z","symbolSize":140,"symbolStrokeWidth":1.1}}}}
     ]},
    {"spacing":9,"resolve":{"scale":{"color":"independent","x":"independent","y":"independent"},"legend":{"color":"independent"}},"hconcat":[
    {"width":119,"height":125,"title":"Wilcoxon, p = 0.4",
     "data":{"values":[{"g":"Low","lo":0,"q1":0.0002,"med":0.001,"q3":0.0115,"hi":0.026},{"g":"High","lo":0,"q1":0,"med":0.0005,"q3":0.0107,"hi":0.026}]},
     "encoding":{"x":{"field":"g","type":"nominal","scale":{"domain":["Low","High"],"paddingInner":0,"paddingOuter":0.1},"axis":{"title":"Group"}}},
     "layer":[
      {"mark":{"type":"rule","strokeWidth":1},"encoding":{"y":{"field":"lo","type":"quantitative","title":"Tregs","scale":{"domain":[-0.0027,0.0535],"nice":false,"zero":false}},"y2":{"field":"hi"},"stroke":{"condition":{"test":"datum.g==='Low'","value":"#2f8e9c"},"value":"#ef6a5f"}}},
      {"mark":{"type":"bar","width":{"band":0.72},"fill":"white","strokeWidth":1},"encoding":{"y":{"field":"q1","type":"quantitative","title":"Tregs","scale":{"domain":[-0.0027,0.0535],"nice":false,"zero":false}},"y2":{"field":"q3"},"stroke":{"condition":{"test":"datum.g==='Low'","value":"#2f8e9c"},"value":"#ef6a5f"}}},
      {"mark":{"type":"bar","width":{"band":0.72},"fill":"white","strokeWidth":1},"encoding":{"y":{"field":"med","type":"quantitative","title":"Tregs","scale":{"domain":[-0.0027,0.0535],"nice":false,"zero":false}},"y2":{"field":"med"},"stroke":{"condition":{"test":"datum.g==='Low'","value":"#2f8e9c"},"value":"#ef6a5f"}}},
      {"data":{"values":"g,v,j\nLow,0,0.12\nLow,0,-0.35\nLow,0,0.41\nLow,0,-0.08\nLow,0,0.27\nLow,0.0003,-0.44\nLow,0.0006,0.03\nLow,0.001,0.36\nLow,0.0015,-0.19\nLow,0.002,0.22\nLow,0.003,-0.29\nLow,0.004,0.45\nLow,0.005,-0.02\nLow,0.006,0.15\nLow,0.007,-0.38\nLow,0.008,0.31\nLow,0.009,-0.12\nLow,0.01,0.07\nLow,0.011,-0.47\nLow,0.012,0.39\nLow,0.013,-0.25\nLow,0.014,0.19\nLow,0.015,-0.06\nLow,0.016,0.33\nLow,0.017,-0.41\nLow,0.018,0.01\nLow,0.019,0.43\nLow,0.02,-0.16\nLow,0.021,0.25\nLow,0.022,-0.32\nLow,0.024,0.09\nLow,0.026,-0.22\nLow,0,0.47\nLow,0,-0.1\nLow,0.001,0.17\nLow,0.002,-0.37\nLow,0.004,0.29\nLow,0.006,-0.04\nLow,0.008,0.38\nLow,0.012,-0.27\nLow,0.016,0.05\nLow,0.029,0.2\nLow,0.03,0.3\nLow,0.03,0.1\nLow,0.032,-0.16\nLow,0.034,0.1\nLow,0.036,-0.06\nLow,0.037,-0.24\nLow,0.041,0.24\nLow,0.046,-0.02\nLow,0.049,-0.14\nLow,0.05,-0.12\nLow,0.051,-0.28\nHigh,0,0.05\nHigh,0,-0.45\nHigh,0,0.21\nHigh,0,-0.14\nHigh,0,0.34\nHigh,0.0003,-0.31\nHigh,0.0006,0.11\nHigh,0.001,-0.2\nHigh,0.002,0.44\nHigh,0.003,-0.07\nHigh,0.004,0.26\nHigh,0.005,-0.4\nHigh,0.006,0.14\nHigh,0.007,-0.24\nHigh,0.008,0.36\nHigh,0.009,-0.01\nHigh,0.01,0.23\nHigh,0.011,-0.34\nHigh,0.012,0.08\nHigh,0.013,-0.43\nHigh,0.014,0.3\nHigh,0.015,-0.13\nHigh,0.016,0.4\nHigh,0.017,-0.28\nHigh,0.018,0.02\nHigh,0.02,0.18\nHigh,0.022,-0.39\nHigh,0.024,0.28\nHigh,0.026,-0.09\nHigh,0,0.46\nHigh,0.001,-0.18\nHigh,0.003,0.13\nHigh,0.005,-0.46\nHigh,0.009,0.35\nHigh,0.028,-0.3\nHigh,0.029,0.3\nHigh,0.03,-0.1\nHigh,0.0305,0\nHigh,0.042,-0.32\nHigh,0.0425,-0.26\nHigh,0.043,-0.2\nHigh,0.0475,0.32\nHigh,0.0505,-0.4","format":{"type":"csv","parse":{"v":"number","j":"number"}}},
       "mark":{"type":"circle","size":20,"opacity":1},
       "encoding":{"xOffset":{"field":"j","type":"quantitative","scale":{"domain":[-1,1]}},"y":{"field":"v","type":"quantitative","title":"Tregs","scale":{"domain":[-0.0027,0.0535],"nice":false,"zero":false},"axis":{"values":[0,0.01,0.02,0.03,0.04,0.05],"format":".2f"}},"color":{"condition":{"test":"datum.g==='Low'","value":"#0e6174"},"value":"#e0190f"}}}
     ]},
    {"spacing":14,"resolve":{"scale":{"color":"independent","x":"independent","y":"independent"},"legend":{"color":"independent"}},"hconcat":[
    {"width":123,"height":125,"title":"Wilcoxon, p = 7.5e−09",
     "data":{"values":[{"g":"Low","lo":0,"q1":0,"med":0,"q3":0.001,"hi":0.002},{"g":"High","lo":0,"q1":0,"med":0.003,"q3":0.019,"hi":0.045}]},
     "encoding":{"x":{"field":"g","type":"nominal","scale":{"domain":["Low","High"],"paddingInner":0,"paddingOuter":0.1},"axis":{"title":"Group"}}},
     "layer":[
      {"mark":{"type":"rule","strokeWidth":1},"encoding":{"y":{"field":"lo","type":"quantitative","title":"B−cells","scale":{"domain":[-0.022,0.4187],"nice":false,"zero":false}},"y2":{"field":"hi"},"stroke":{"condition":{"test":"datum.g==='Low'","value":"#2f8e9c"},"value":"#ef6a5f"}}},
      {"mark":{"type":"bar","width":{"band":0.72},"fill":"white","strokeWidth":1},"encoding":{"y":{"field":"q1","type":"quantitative","title":"B−cells","scale":{"domain":[-0.022,0.4187],"nice":false,"zero":false}},"y2":{"field":"q3"},"stroke":{"condition":{"test":"datum.g==='Low'","value":"#2f8e9c"},"value":"#ef6a5f"}}},
      {"mark":{"type":"bar","width":{"band":0.72},"fill":"white","strokeWidth":1},"encoding":{"y":{"field":"med","type":"quantitative","title":"B−cells","scale":{"domain":[-0.022,0.4187],"nice":false,"zero":false}},"y2":{"field":"med"},"stroke":{"condition":{"test":"datum.g==='Low'","value":"#2f8e9c"},"value":"#ef6a5f"}}},
      {"data":{"values":"g,v,j\nLow,0,0.12\nLow,0,-0.35\nLow,0,0.41\nLow,0,-0.08\nLow,0,0.27\nLow,0,-0.44\nLow,0,0.03\nLow,0,0.36\nLow,0,-0.19\nLow,0,0.22\nLow,0,-0.29\nLow,0,0.45\nLow,0,-0.02\nLow,0,0.15\nLow,0,-0.38\nLow,0,0.31\nLow,0,-0.12\nLow,0,0.07\nLow,0,-0.47\nLow,0,0.39\nLow,0,-0.25\nLow,0,0.19\nLow,0.003,-0.06\nLow,0.005,0.33\nLow,0.008,-0.41\nLow,0.01,0.01\nLow,0.012,0.43\nLow,0.015,-0.16\nLow,0.018,0.25\nLow,0.02,-0.32\nLow,0.025,0.09\nLow,0.03,-0.22\nLow,0.035,0.47\nLow,0.04,-0.1\nLow,0.05,0.17\nLow,0.075,-0.3\nLow,0.08,0.28\nLow,0.09,-0.1\nLow,0.092,-0.06\nLow,0.145,-0.24\nLow,0.215,0.32\nLow,0.26,0.2\nLow,0.4,-0.12\nHigh,0,0.05\nHigh,0,-0.45\nHigh,0,0.21\nHigh,0,-0.14\nHigh,0,0.34\nHigh,0,-0.31\nHigh,0,0.11\nHigh,0,-0.2\nHigh,0,0.44\nHigh,0,-0.07\nHigh,0,0.26\nHigh,0,-0.4\nHigh,0,0.14\nHigh,0,-0.24\nHigh,0.003,0.36\nHigh,0.006,-0.01\nHigh,0.009,0.23\nHigh,0.012,-0.34\nHigh,0.015,0.08\nHigh,0.018,-0.43\nHigh,0.021,0.3\nHigh,0.024,-0.13\nHigh,0.027,0.4\nHigh,0.03,-0.28\nHigh,0.033,0.02\nHigh,0.036,0.18\nHigh,0.04,-0.39\nHigh,0.045,0.28\nHigh,0.002,-0.09\nHigh,0.005,0.46\nHigh,0.008,-0.18\nHigh,0.011,0.13\nHigh,0.014,-0.46\nHigh,0.02,0.35\nHigh,0.05,-0.2\nHigh,0.055,0.3\nHigh,0.06,-0.36\nHigh,0.065,0.1\nHigh,0.07,0.4\nHigh,0.08,-0.3\nHigh,0.09,0.2\nHigh,0.1,0.34\nHigh,0.105,0.4\nHigh,0.14,-0.3\nHigh,0.142,-0.24\nHigh,0.155,-0.04\nHigh,0.195,-0.28\nHigh,0.215,0.04\nHigh,0.312,0.14","format":{"type":"csv","parse":{"v":"number","j":"number"}}},
       "mark":{"type":"circle","size":20,"opacity":1},
       "encoding":{"xOffset":{"field":"j","type":"quantitative","scale":{"domain":[-1,1]}},"y":{"field":"v","type":"quantitative","title":"B−cells","scale":{"domain":[-0.022,0.4187],"nice":false,"zero":false},"axis":{"values":[0,0.1,0.2,0.3,0.4],"format":".1f"}},"color":{"condition":{"test":"datum.g==='Low'","value":"#0e6174"},"value":"#e0190f"}}}
     ]},
    {"width":119,"height":125,"title":"Wilcoxon, p = 9.5e−06",
     "data":{"values":[{"g":"Low","lo":0,"q1":0.027,"med":0.043,"q3":0.058,"hi":0.1},{"g":"High","lo":0,"q1":0.018,"med":0.031,"q3":0.046,"hi":0.09}]},
     "encoding":{"x":{"field":"g","type":"nominal","scale":{"domain":["Low","High"],"paddingInner":0,"paddingOuter":0.1},"axis":{"title":"Group"}}},
     "layer":[
      {"mark":{"type":"rule","strokeWidth":1},"encoding":{"y":{"field":"lo","type":"quantitative","title":"Macrophages M2","scale":{"domain":[-0.0088,0.1738],"nice":false,"zero":false}},"y2":{"field":"hi"},"stroke":{"condition":{"test":"datum.g==='Low'","value":"#2f8e9c"},"value":"#ef6a5f"}}},
      {"mark":{"type":"bar","width":{"band":0.72},"fill":"white","strokeWidth":1},"encoding":{"y":{"field":"q1","type":"quantitative","title":"Macrophages M2","scale":{"domain":[-0.0088,0.1738],"nice":false,"zero":false}},"y2":{"field":"q3"},"stroke":{"condition":{"test":"datum.g==='Low'","value":"#2f8e9c"},"value":"#ef6a5f"}}},
      {"mark":{"type":"bar","width":{"band":0.72},"fill":"white","strokeWidth":1},"encoding":{"y":{"field":"med","type":"quantitative","title":"Macrophages M2","scale":{"domain":[-0.0088,0.1738],"nice":false,"zero":false}},"y2":{"field":"med"},"stroke":{"condition":{"test":"datum.g==='Low'","value":"#2f8e9c"},"value":"#ef6a5f"}}},
      {"data":{"values":"g,v,j\nLow,0,0.12\nLow,0.003,-0.35\nLow,0.006,0.41\nLow,0.01,-0.08\nLow,0.013,0.27\nLow,0.016,-0.44\nLow,0.019,0.03\nLow,0.022,0.36\nLow,0.024,-0.19\nLow,0.026,0.22\nLow,0.028,-0.29\nLow,0.03,0.45\nLow,0.032,-0.02\nLow,0.034,0.15\nLow,0.036,-0.38\nLow,0.038,0.31\nLow,0.039,-0.12\nLow,0.04,0.07\nLow,0.041,-0.47\nLow,0.042,0.39\nLow,0.043,-0.25\nLow,0.044,0.19\nLow,0.045,-0.06\nLow,0.046,0.33\nLow,0.047,-0.41\nLow,0.048,0.01\nLow,0.049,0.43\nLow,0.05,-0.16\nLow,0.052,0.25\nLow,0.054,-0.32\nLow,0.056,0.09\nLow,0.058,-0.22\nLow,0.06,0.47\nLow,0.062,-0.1\nLow,0.064,0.17\nLow,0.066,-0.37\nLow,0.068,0.29\nLow,0.07,-0.04\nLow,0.073,0.38\nLow,0.076,-0.27\nLow,0.08,0.05\nLow,0.085,-0.45\nLow,0.09,0.21\nLow,0.095,-0.14\nLow,0.1,0.34\nLow,0.035,-0.31\nLow,0.04,0.11\nLow,0.045,-0.2\nLow,0.05,0.44\nLow,0.055,-0.07\nLow,0.02,0.26\nLow,0.03,-0.4\nLow,0.065,0.14\nLow,0,-0.24\nLow,0.008,0.36\nLow,0.021,0.42\nLow,0.025,-0.11\nLow,0.029,0.24\nLow,0.033,-0.33\nLow,0.036,0.06\nLow,0.038,-0.23\nLow,0.04,0.35\nLow,0.042,-0.46\nLow,0.044,0.13\nLow,0.046,-0.18\nLow,0.048,0.46\nLow,0.05,-0.09\nLow,0.052,0.28\nLow,0.054,-0.39\nLow,0.057,0.18\nLow,0.06,0.02\nLow,0.063,-0.28\nLow,0.067,0.4\nLow,0.071,-0.13\nLow,0.075,0.3\nLow,0.015,-0.43\nLow,0.011,0.08\nLow,0.005,-0.34\nLow,0.083,0.23\nLow,0.088,-0.01\nLow,0.11,-0.3\nLow,0.13,-0.14\nLow,0.167,0.04\nHigh,0,0.05\nHigh,0,-0.45\nHigh,0.003,0.21\nHigh,0.006,-0.14\nHigh,0.009,0.34\nHigh,0.012,-0.31\nHigh,0.015,0.11\nHigh,0.017,-0.2\nHigh,0.019,0.44\nHigh,0.021,-0.07\nHigh,0.023,0.26\nHigh,0.025,-0.4\nHigh,0.027,0.14\nHigh,0.029,-0.24\nHigh,0.031,0.36\nHigh,0.033,-0.01\nHigh,0.035,0.23\nHigh,0.037,-0.34\nHigh,0.039,0.08\nHigh,0.041,-0.43\nHigh,0.043,0.3\nHigh,0.045,-0.13\nHigh,0.047,0.4\nHigh,0.05,-0.28\nHigh,0.053,0.02\nHigh,0.056,0.18\nHigh,0.06,-0.39\nHigh,0.064,0.28\nHigh,0.068,-0.09\nHigh,0.072,0.46\nHigh,0.077,-0.18\nHigh,0.082,0.13\nHigh,0.088,-0.46\nHigh,0.02,0.35\nHigh,0.025,-0.23\nHigh,0.03,0.06\nHigh,0.035,-0.33\nHigh,0.04,0.24\nHigh,0.01,-0.11\nHigh,0,0.42\nHigh,0.028,0.12\nHigh,0.032,-0.35\nHigh,0.008,0.36\nHigh,0.013,-0.24\nHigh,0.016,0.14\nHigh,0.02,-0.4\nHigh,0.023,0.26\nHigh,0.026,-0.07\nHigh,0.028,0.44\nHigh,0.03,-0.2\nHigh,0.032,0.11\nHigh,0.034,-0.31\nHigh,0.036,0.34\nHigh,0.038,-0.14\nHigh,0.04,0.21\nHigh,0.042,-0.45\nHigh,0.044,0.05\nHigh,0.046,-0.27\nHigh,0.049,0.38\nHigh,0.052,-0.04\nHigh,0.055,0.29\nHigh,0.058,-0.37\nHigh,0.062,0.17\nHigh,0.066,-0.1\nHigh,0.07,0.47\nHigh,0.075,-0.22\nHigh,0.004,0.09\nHigh,0.092,-0.3\nHigh,0.097,0.1\nHigh,0.132,0.14","format":{"type":"csv","parse":{"v":"number","j":"number"}}},
       "mark":{"type":"circle","size":20,"opacity":1},
       "encoding":{"xOffset":{"field":"j","type":"quantitative","scale":{"domain":[-1,1]}},"y":{"field":"v","type":"quantitative","title":"Macrophages M2","scale":{"domain":[-0.0088,0.1738],"nice":false,"zero":false},"axis":{"values":[0,0.05,0.1,0.15],"format":".2f"}},"color":{"condition":{"test":"datum.g==='Low'","value":"#0e6174"},"value":"#e0190f"}}}
     ]}
    ]}
    ]}
  ]
 }]
},
{
 "width":415,"height":211,
 "data":{"values":[
  {"g":"S1","grp":"High","lo":0.2,"q1":0.5,"med":0.7,"q3":0.9,"hi":1.3},{"g":"S1","grp":"Low","lo":0.2,"q1":0.5,"med":0.7,"q3":1.0,"hi":1.4},
  {"g":"S2","grp":"High","lo":0.2,"q1":0.6,"med":0.9,"q3":1.2,"hi":1.6},{"g":"S2","grp":"Low","lo":0.2,"q1":0.7,"med":1.0,"q3":1.3,"hi":1.9},
  {"g":"S3","grp":"High","lo":0.3,"q1":0.8,"med":1.1,"q3":1.4,"hi":2.0},{"g":"S3","grp":"Low","lo":0.2,"q1":0.6,"med":0.9,"q3":1.2,"hi":1.7},
  {"g":"S4","grp":"High","lo":0.3,"q1":0.9,"med":1.2,"q3":1.45,"hi":2.4},{"g":"S4","grp":"Low","lo":0.3,"q1":0.8,"med":1.1,"q3":1.4,"hi":1.95},
  {"g":"S5","grp":"High","lo":0.2,"q1":0.5,"med":0.8,"q3":1.1,"hi":1.5},{"g":"S5","grp":"Low","lo":0.2,"q1":0.6,"med":0.9,"q3":1.2,"hi":1.6},
  {"g":"S6","grp":"High","lo":0.5,"q1":1.0,"med":1.3,"q3":1.5,"hi":2.8},{"g":"S6","grp":"Low","lo":0.3,"q1":0.8,"med":1.1,"q3":1.4,"hi":1.8},
  {"g":"S7","grp":"High","lo":0.5,"q1":1.0,"med":1.3,"q3":1.5,"hi":2.85},{"g":"S7","grp":"Low","lo":0.3,"q1":0.7,"med":1.0,"q3":1.3,"hi":1.6},
  {"g":"S8","grp":"High","lo":0.3,"q1":0.7,"med":1.0,"q3":1.4,"hi":1.5},{"g":"S8","grp":"Low","lo":0.2,"q1":0.6,"med":0.9,"q3":1.2,"hi":1.6}
 ]},
 "encoding":{"x":{"field":"g","type":"nominal","scale":{"paddingInner":0,"paddingOuter":0.1},"axis":{"title":null}}},
 "layer":[
  {"mark":{"type":"rule","strokeWidth":1.2},"encoding":{"xOffset":{"field":"grp","type":"nominal","scale":{"domain":["High","Low"],"paddingInner":0,"paddingOuter":0.27}},"y":{"field":"lo","type":"quantitative","title":"Relative expression","scale":{"domain":[-0.59,5.58],"nice":false,"zero":false}},"y2":{"field":"hi"},"stroke":{"condition":{"test":"datum.grp==='High'","value":"#c46a6a"},"value":"#5a8fd0"}}},
  {"mark":{"type":"bar","width":{"band":0.15}},"encoding":{"xOffset":{"field":"grp","type":"nominal","scale":{"domain":["High","Low"],"paddingInner":0,"paddingOuter":0.27}},"y":{"field":"q1","type":"quantitative","title":"Relative expression","scale":{"domain":[-0.59,5.58],"nice":false,"zero":false}},"y2":{"field":"q3"},"color":{"condition":{"test":"datum.grp==='High'","value":"#c46a6a"},"value":"#5a8fd0"}}},
  {"data":{"values":"g,grp,v\nS1,Low,2.9\nS1,Low,1.0\nS1,Low,0.6\nS1,High,1.2\nS1,High,0.8\nS1,High,0.5\nS2,High,3.34\nS2,High,2.93\nS2,High,2.78\nS2,High,2.56\nS2,High,1.95\nS2,High,1.59\nS2,High,1.0\nS2,High,0.5\nS2,Low,2.37\nS2,Low,2.16\nS2,Low,2.08\nS2,Low,1.86\nS2,Low,1.2\nS2,Low,0.7\nS3,High,2.68\nS3,High,2.45\nS3,High,2.24\nS3,High,1.99\nS3,High,1.92\nS3,High,1.85\nS3,High,1.8\nS3,High,1.75\nS3,High,1.7\nS3,High,1.65\nS3,High,1.6\nS3,High,1.55\nS3,High,1.0\nS3,Low,3.15\nS3,Low,2.52\nS3,Low,2.26\nS3,Low,2.14\nS3,Low,2.05\nS3,Low,1.75\nS3,Low,1.2\nS4,High,3.64\nS4,High,3.53\nS4,High,3.24\nS4,High,2.91\nS4,High,2.68\nS4,High,2.58\nS4,High,2.36\nS4,High,2.25\nS4,High,2.1\nS4,High,2.0\nS4,High,1.95\nS4,High,1.9\nS4,High,1.85\nS4,High,1.8\nS4,High,1.75\nS4,High,1.7\nS4,High,1.65\nS4,High,1.6\nS4,High,1.55\nS4,Low,5.27\nS4,Low,3.12\nS4,Low,2.93\nS4,Low,2.83\nS4,Low,2.34\nS4,Low,2.2\nS4,Low,2.1\nS4,Low,2.0\nS4,Low,1.9\nS4,Low,1.8\nS4,Low,1.7\nS4,Low,1.6\nS4,Low,1.55\nS5,High,2.61\nS5,High,2.39\nS5,High,1.2\nS5,Low,3.41\nS5,Low,3.0\nS5,Low,2.65\nS5,Low,2.41\nS5,Low,2.05\nS5,Low,1.95\nS5,Low,1.7\nS5,Low,1.66\nS6,High,5.1\nS6,High,4.47\nS6,High,3.98\nS6,High,3.9\nS6,High,3.7\nS6,High,3.45\nS6,High,3.26\nS6,High,3.1\nS6,High,2.9\nS6,High,2.8\nS6,High,2.7\nS6,High,2.6\nS6,High,2.5\nS6,High,2.4\nS6,High,2.3\nS6,High,2.2\nS6,High,2.1\nS6,High,2.0\nS6,High,1.9\nS6,High,1.8\nS6,High,1.7\nS6,High,1.6\nS6,Low,4.29\nS6,Low,3.97\nS6,Low,3.14\nS6,Low,2.78\nS6,Low,2.53\nS6,Low,2.39\nS6,Low,1.99\nS6,Low,1.8\nS6,Low,1.7\nS6,Low,1.65\nS7,High,5.37\nS7,High,4.88\nS7,High,4.24\nS7,High,3.83\nS7,High,3.61\nS7,High,3.45\nS7,High,3.18\nS7,High,3.08\nS7,High,2.9\nS7,High,2.8\nS7,High,2.7\nS7,High,2.55\nS7,High,2.4\nS7,High,2.3\nS7,High,2.2\nS7,High,2.1\nS7,High,2.0\nS7,High,1.9\nS7,High,1.8\nS7,High,1.7\nS7,High,1.6\nS7,Low,4.03\nS7,Low,3.96\nS7,Low,3.61\nS7,Low,2.79\nS7,Low,2.4\nS7,Low,2.15\nS7,Low,2.0\nS7,Low,1.86\nS7,Low,1.72\nS8,High,2.69\nS8,High,2.54\nS8,High,2.15\nS8,High,2.0\nS8,High,1.85\nS8,High,1.75\nS8,Low,3.63\nS8,Low,2.91\nS8,Low,2.3\nS8,Low,1.72\nS8,Low,1.63","format":{"type":"csv","parse":{"v":"number"}}},
   "mark":{"type":"square","size":5,"opacity":0.85},
   "encoding":{"xOffset":{"field":"grp","type":"nominal","scale":{"domain":["High","Low"],"paddingInner":0,"paddingOuter":0.27}},"y":{"field":"v","type":"quantitative","title":"Relative expression","scale":{"domain":[-0.59,5.58],"nice":false,"zero":false},"axis":{"values":[0,2,4],"format":"d","labelFontSize":11}},"color":{"condition":{"test":"datum.grp==='High'","value":"#b5302e"},"value":"#2e74c2"}}},
  {"data":{"values":[{"g":"S1","lab":"ns"},{"g":"S2","lab":"ns"},{"g":"S3","lab":"****"},{"g":"S4","lab":"ns"},{"g":"S5","lab":"***"},{"g":"S6","lab":"**"},{"g":"S7","lab":"***"},{"g":"S8","lab":"*"}]},
   "mark":{"type":"text","fontSize":11,"color":"#333"},
   "encoding":{"y":{"datum":5.4},"text":{"field":"lab"}}}
 ]
}
]
}
